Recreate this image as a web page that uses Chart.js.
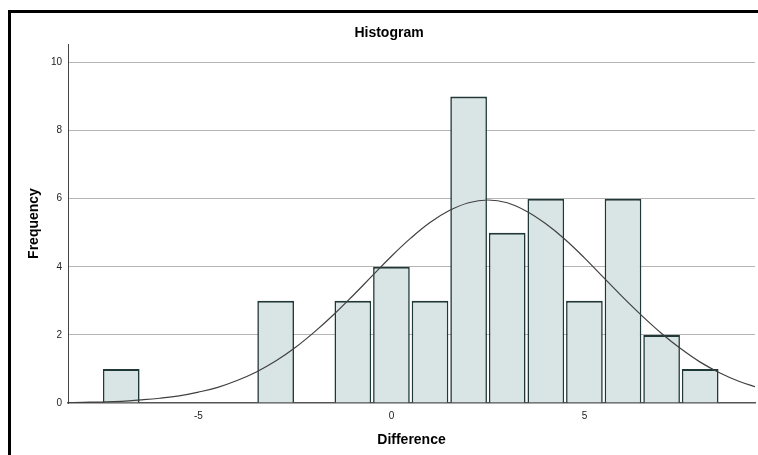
<!DOCTYPE html>
<html>
<head>
<meta charset="utf-8">
<title>Histogram</title>
<script src="https://cdn.jsdelivr.net/npm/chart.js@4.4.1/dist/chart.umd.min.js"></script>
<style>
    html, body { margin: 0; padding: 0; background: #fff; }
    #wrap { position: relative; width: 758px; height: 455px; }
</style>
</head>
<body>
<div id="wrap"><canvas id="histogramChart" width="758" height="455"></canvas></div>
<script>
// bins (centre of each bar) and their counts
const binCenters = [-7, -3, -1, 0, 1, 2, 3, 4, 5, 6, 7, 8];
const binCounts = [1, 3, 3, 4, 3, 9, 5, 6, 3, 6, 2, 1];

// normal curve
const curveX = [-8.5, -8, -7.5, -7, -6.5, -6, -5.5, -5, -4.5, -4, -3.5, -3, -2.5, -2, -1.5, -1, -0.5,
    0, 0.5, 1, 1.5, 2, 2.5, 3, 3.5, 4, 4.5, 5, 5.5, 6, 6.5, 7, 7.5, 8, 8.5, 9, 9.5];
const curveY = [0.01, 0.02, 0.03, 0.05, 0.09, 0.14, 0.21, 0.32, 0.46, 0.66, 0.91, 1.23, 1.62, 2.08, 2.59, 3.15, 3.73,
    4.31, 4.84, 5.30, 5.65, 5.88, 5.96, 5.88, 5.63, 5.26, 4.80, 4.26, 3.68, 3.10, 2.55, 2.04, 1.59, 1.20, 0.89, 0.64, 0.45];

const xTickValues = [-5, 0, 5];
const yTickStep = 2;
const xRange = [-8.38, 9.42];
const yRange = [0, 10.54];

const chartTitle = 'Histogram';
const xTitle = 'Difference';
const yTitle = 'Frequency';

const FONT = '"Liberation Sans", Arial, sans-serif';

// black frame (top + left) and the three titles
const frameAndTitles = {
    id: 'frameAndTitles',
    afterDraw(chart) {
        const ctx = chart.ctx;
        const { left, right, top, bottom } = chart.chartArea;
        ctx.save();
        ctx.fillStyle = '#000';
        ctx.fillRect(8, 10, chart.width - 8, 3);
        ctx.fillRect(8, 10, 3, chart.height - 10);

        ctx.font = `bold 14px ${FONT}`;
        ctx.textAlign = 'center';
        ctx.textBaseline = 'alphabetic';
        ctx.fillText(chartTitle, 389, 37);
        ctx.fillText(xTitle, (left + right) / 2, 444);

        ctx.translate(38, (top + bottom) / 2);
        ctx.rotate(-Math.PI / 2);
        ctx.fillText(yTitle, 0, 0);
        ctx.restore();
    }
};

const ctx = document.getElementById('histogramChart').getContext('2d');

new Chart(ctx, {
    type: 'bar',
    data: {
        datasets: [{
            type: 'line',
            order: 0,
            data: curveX.map((x, i) => ({ x, y: curveY[i] })),
            borderColor: '#404040',
            borderWidth: 1.2,
            pointRadius: 0,
            tension: 0.4,
            fill: false,
            clip: 0
        }, {
            type: 'bar',
            order: 1,
            data: binCenters.map((x, i) => ({ x, y: binCounts[i] })),
            backgroundColor: '#d9e5e4',
            borderColor: '#213838',
            borderWidth: { top: 2, left: 1.6, right: 1.6, bottom: 0 },
            grouped: false,
            categoryPercentage: 1,
            barPercentage: 0.95
        }]
    },
    options: {
        responsive: false,
        animation: false,
        layout: { padding: { top: 44, right: 3, left: 0, bottom: 0 } },
        plugins: {
            legend: { display: false },
            title: { display: false },
            tooltip: { enabled: false }
        },
        scales: {
            x: {
                type: 'linear',
                min: xRange[0],
                max: xRange[1],
                offset: false,
                grid: { display: false, drawTicks: false },
                border: { color: '#555', width: 1.5 },
                ticks: {
                    padding: 7,
                    color: '#222',
                    font: { family: FONT, size: 10 }
                },
                afterBuildTicks: (scale) => {
                    scale.ticks = xTickValues.map(v => ({ value: v }));
                },
                afterFit: (scale) => { scale.height = 52; }
            },
            y: {
                min: yRange[0],
                max: yRange[1],
                grid: {
                    color: (c) => c.tick.value === 0 ? 'rgba(0,0,0,0)' : '#b5b5b5',
                    drawTicks: false
                },
                border: { color: '#444', width: 1 },
                ticks: {
                    stepSize: yTickStep,
                    includeBounds: false,
                    padding: 6,
                    color: '#222',
                    font: { family: FONT, size: 10 }
                },
                afterFit: (scale) => { scale.width = 68; }
            }
        }
    },
    plugins: [frameAndTitles]
});
</script>
</body>
</html>
